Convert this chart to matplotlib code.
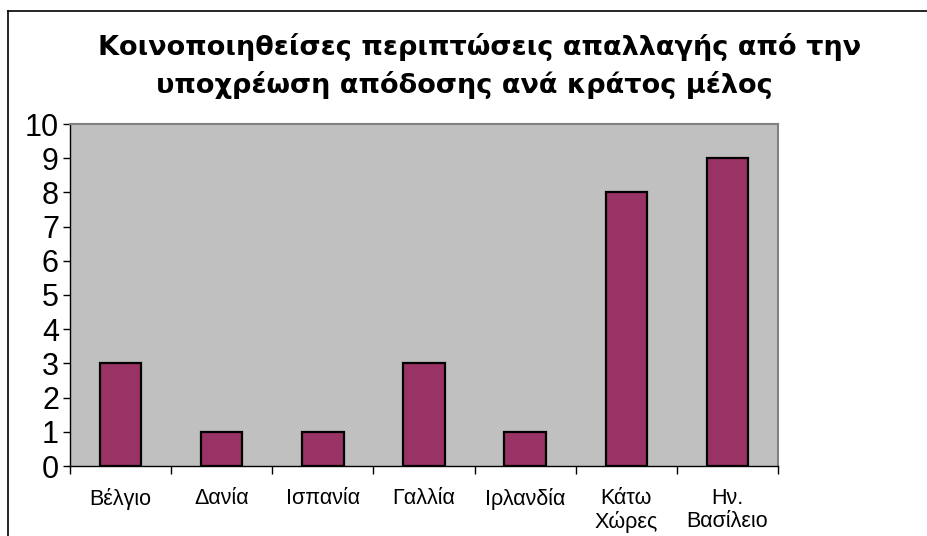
import matplotlib
matplotlib.use("Agg")
import matplotlib.pyplot as plt
from matplotlib.lines import Line2D
import numpy as np

categories = ["Βέλγιο", "Δανία", "Ισπανία", "Γαλλία", "Ιρλανδία", "Κάτω\nΧώρες", "Ην.\nΒασίλειο"]
values = [3, 1, 1, 3, 1, 8, 9]
yticks = list(range(0, 11))
title_lines = ["Κοινοποιηθείσες περιπτώσεις απαλλαγής από την",
               "υποχρέωση απόδοσης ανά κράτος μέλος"]

W, H = 927, 536
fig = plt.figure(figsize=(W / 100, H / 100), dpi=100)
fig.patch.set_facecolor("white")

ax = fig.add_axes([70 / W, 1 - 466 / H, (778 - 70) / W, (466 - 124) / H])
ax.set_facecolor("#C0C0C0")

x = np.arange(len(categories))
ax.bar(x, values, width=0.41, color="#993366", edgecolor="black", linewidth=1.6, zorder=3)

ax.set_xlim(-0.5, len(categories) - 0.5)
ax.set_ylim(0, 10)
ax.set_yticks(yticks)
ax.set_yticklabels([str(t) for t in yticks], fontsize=22, family="Liberation Sans")
ax.tick_params(axis="y", length=5, width=1, pad=3, colors="black")

ax.set_xticks(x)
ax.set_xticklabels(categories, fontsize=15.5, family="Liberation Sans", linespacing=1.12)
ax.tick_params(axis="x", which="major", length=0, pad=16)
ax.set_xticks(np.arange(len(categories) + 1) - 0.5, minor=True)
ax.tick_params(axis="x", which="minor", length=6, width=1, color="black")

for s in ("top", "right"):
    ax.spines[s].set_color("#808080")
    ax.spines[s].set_linewidth(1.5)
for s in ("left", "bottom"):
    ax.spines[s].set_color("black")
    ax.spines[s].set_linewidth(1)

for line, cx, by in zip(title_lines, [480, 464], [55, 93]):
    fig.text(cx / W, 1 - by / H, line, ha="center", va="baseline", fontsize=19.5,
             fontweight="bold", family="DejaVu Sans")

# outer border (top and left visible)
fig.add_artist(Line2D([8 / W, 1.0], [1 - 11 / H, 1 - 11 / H], color="black", lw=1.2, transform=fig.transFigure))
fig.add_artist(Line2D([8 / W, 8 / W], [0, 1 - 11 / H], color="black", lw=1.2, transform=fig.transFigure))

fig.savefig("out.png", dpi=100, facecolor="white")
